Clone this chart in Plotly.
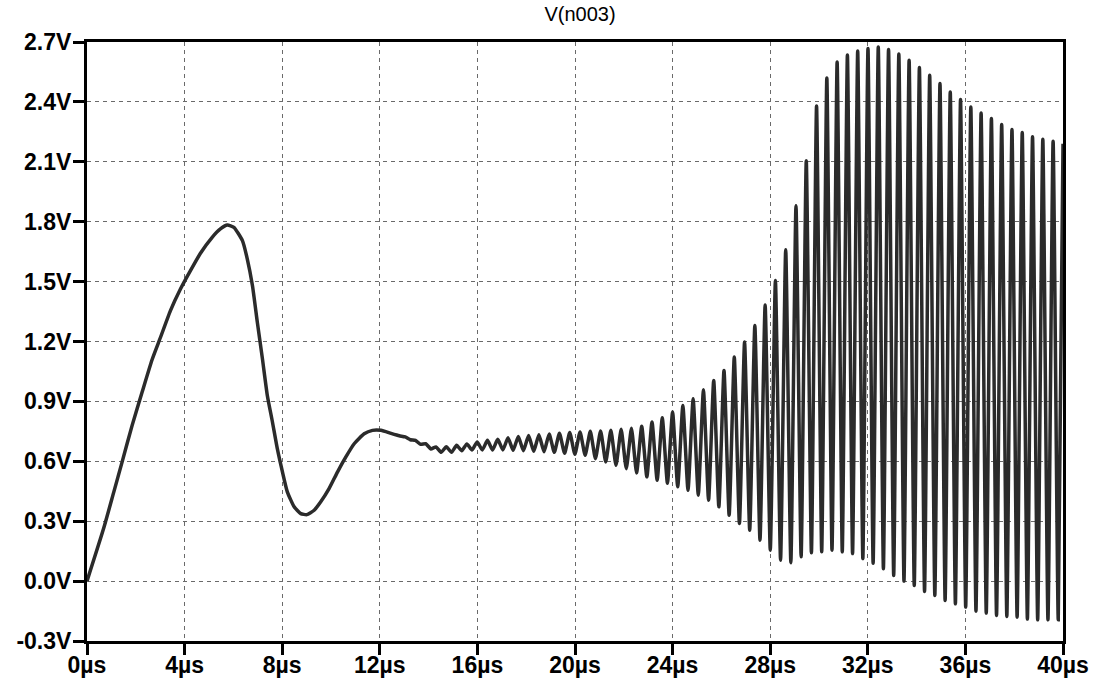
import plotly.graph_objects as go

# ---- smooth start of the transient (µs, V) ----
t_smooth = [0.0, 0.68, 1.10, 1.44, 1.85, 2.26, 2.67, 3.01, 3.42, 3.83, 4.24, 4.65,
            5.13, 5.48, 5.75, 6.02, 6.37, 6.57, 6.78, 6.98, 7.19, 7.39, 7.60, 7.80,
            8.01, 8.21, 8.49, 8.76, 9.01, 9.31, 9.58, 9.92, 10.27, 10.61, 10.95,
            11.36, 11.70, 12.05, 12.46, 12.80]
v_smooth = [0.0, 0.263, 0.447, 0.597, 0.78, 0.947, 1.11, 1.22, 1.355, 1.463, 1.555, 1.642,
            1.722, 1.765, 1.783, 1.772, 1.705, 1.613, 1.48, 1.297, 1.113, 0.93, 0.797, 0.663,
            0.547, 0.447, 0.372, 0.338, 0.333, 0.355, 0.397, 0.463, 0.547, 0.622, 0.688,
            0.738, 0.755, 0.755, 0.74, 0.728]

# ---- oscillation: crest time of first cycle, period, crest and trough levels per cycle ----
osc_start = 13.04     # µs
osc_period = 0.4215   # µs
peak_values = [0.722, 0.705, 0.688, 0.672, 0.673, 0.680, 0.687, 0.697, 0.705, 0.710,
               0.718, 0.724, 0.729, 0.733, 0.737, 0.741, 0.744, 0.747, 0.750, 0.752,
               0.755, 0.760, 0.765, 0.775, 0.797, 0.818, 0.847, 0.880, 0.913, 0.958,
               1.005, 1.055, 1.122, 1.197, 1.280, 1.383, 1.505, 1.660, 1.880, 2.105,
               2.380, 2.520, 2.600, 2.635, 2.655, 2.667, 2.675, 2.663, 2.640, 2.608,
               2.572, 2.533, 2.492, 2.450, 2.412, 2.375, 2.345, 2.317, 2.287, 2.262,
               2.247, 2.225, 2.213, 2.203]
trough_values = [0.708, 0.685, 0.662, 0.645, 0.645, 0.653, 0.657, 0.657, 0.657, 0.657,
                 0.655, 0.653, 0.650, 0.648, 0.645, 0.640, 0.635, 0.630, 0.613, 0.597,
                 0.580, 0.563, 0.542, 0.522, 0.505, 0.490, 0.472, 0.455, 0.430, 0.405,
                 0.372, 0.330, 0.288, 0.255, 0.205, 0.155, 0.105, 0.092, 0.122, 0.142,
                 0.147, 0.155, 0.147, 0.138, 0.113, 0.090, 0.062, 0.028, 0.000, -0.022,
                 -0.052, -0.072, -0.097, -0.114, -0.130, -0.150, -0.160, -0.172, -0.177, -0.180,
                 -0.190, -0.194, -0.194, -0.194]
t_end = 40.0
v_end = 2.19

x_tick_vals = [0, 4, 8, 12, 16, 20, 24, 28, 32, 36, 40]
x_tick_text = ["0µs", "4µs", "8µs", "12µs", "16µs", "20µs", "24µs", "28µs", "32µs", "36µs", "40µs"]
y_tick_vals = [-0.3, 0.0, 0.3, 0.6, 0.9, 1.2, 1.5, 1.8, 2.1, 2.4, 2.7]
y_tick_text = ["-0.3V", "0.0V", "0.3V", "0.6V", "0.9V", "1.2V", "1.5V", "1.8V", "2.1V", "2.4V", "2.7V"]

# assemble the waveform
t = list(t_smooth)
v = list(v_smooth)
for i, (pk, tr) in enumerate(zip(peak_values, trough_values)):
    t.append(osc_start + i * osc_period)
    v.append(pk)
    t.append(osc_start + (i + 0.5) * osc_period)
    v.append(tr)
t.append(t_end)
v.append(v_end)

fig = go.Figure()
fig.add_trace(go.Scatter(x=t, y=v, mode="lines",
                         line=dict(color="#2b2b2b", width=3.5, shape="spline", smoothing=0.5),
                         hoverinfo="skip"))

tick_font = dict(family="Liberation Sans, Arial, sans-serif", size=23, color="black", weight="bold")
axis_common = dict(showgrid=True, gridcolor="#6a6a6a", gridwidth=1, griddash="4px,4px",
                   showline=True, linecolor="black", linewidth=3, mirror=True,
                   ticks="outside", ticklen=11, tickwidth=3, tickcolor="black",
                   zeroline=False, tickfont=tick_font, automargin=False)

fig.update_xaxes(range=[0, 40], tickmode="array", tickvals=x_tick_vals, ticktext=x_tick_text,
                 ticklabelstandoff=-10, **axis_common)
fig.update_yaxes(range=[-0.3, 2.7], tickmode="array", tickvals=y_tick_vals, ticktext=y_tick_text,
                 ticklabelstandoff=-3, **axis_common)

fig.update_layout(
    width=1095, height=690,
    margin=dict(l=87, r=32, t=42, b=49),
    plot_bgcolor="white", paper_bgcolor="white",
    showlegend=False,
    title=dict(text="V(n003)", x=580 / 1095, xanchor="center", xref="container",
               y=1 - 14 / 690, yanchor="middle", yref="container",
               font=dict(family="Liberation Sans, Arial, sans-serif", size=20, color="black")),
)

fig.write_html("out.html", config={"displayModeBar": False},
               post_script="document.body.style.margin='0';")
